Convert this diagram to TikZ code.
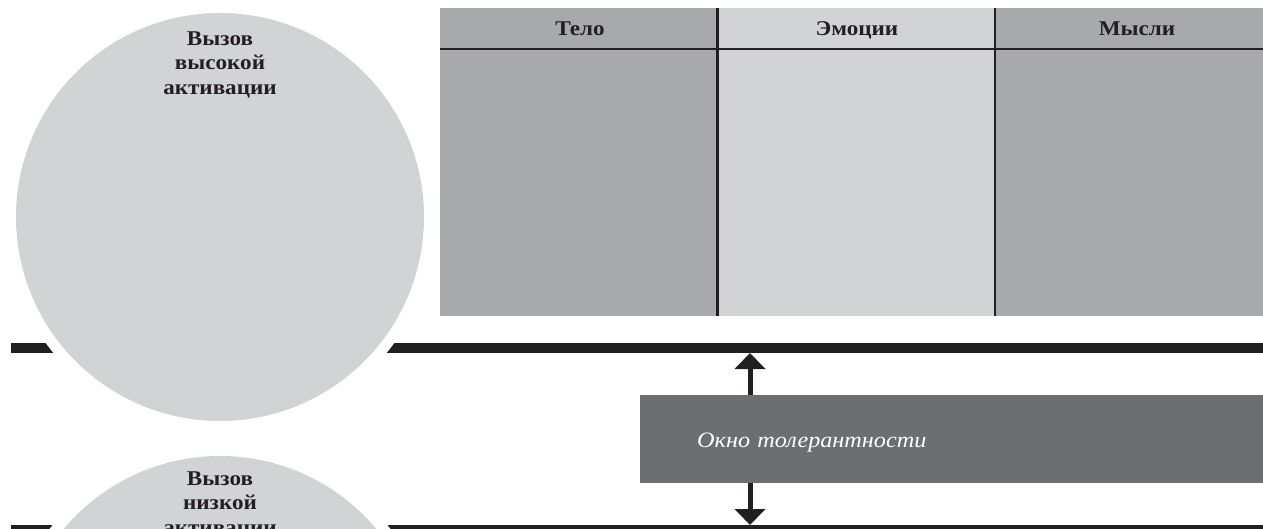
\documentclass[tikz,border=0pt]{standalone}
\usepackage{fontspec}
\setmainfont{Liberation Serif}
\newfontfamily\breit[FakeStretch=1.1]{Liberation Serif}
\usetikzlibrary{arrows.meta}
\definecolor{krug}{HTML}{D1D3D4}
\definecolor{temnyj}{HTML}{A7A9AC}
\definecolor{svetlyj}{HTML}{D1D3D4}
\definecolor{okno}{HTML}{6D6E71}
\definecolor{chernyj}{HTML}{231F20}
\begin{document}
\begin{tikzpicture}[x=1pt, y=-1pt,
  circ node/.style={circle, fill=krug, minimum size=408pt, inner sep=0pt, preaction={draw=white, line width=22pt}},
  circ text/.style={anchor=north, align=center, text=chernyj, font=\breit\bfseries\fontsize{21}{24.5}\selectfont},
  col node/.style={rectangle, anchor=north west, minimum width=277.5pt, minimum height=308pt, inner sep=0pt},
  head node/.style={anchor=base, text=chernyj, font=\breit\bfseries\fontsize{21}{24}\selectfont},
  okno node/.style={rectangle, anchor=north west, fill=okno, minimum width=630pt, minimum height=88pt, text width=516pt, text height=22pt, text depth=5pt, inner xsep=57pt, align=left, text=white, font=\breit\itshape\fontsize{22}{24}\selectfont},
  bar/.style={draw=chernyj, line width=10pt},
  rule/.style={draw=chernyj, line width=2.5pt},
  arr/.style={draw=chernyj, line width=5pt, -{Triangle[width=30pt,length=16pt]}}]
\clip (0,0) rectangle (1263,529);
% bars
\coordinate (l1) at (11,348);
\coordinate (r1) at (1275,348);
\coordinate (l2) at (11,530);
\coordinate (r2) at (1275,530);
\draw[bar] (l1) -- (r1);
\draw[bar] (l2) -- (r2);
% circles
\node[circ node] (hoch) at (220,217) {};
\node[circ text] (hochtext) at ([yshift=-15pt]hoch.north) {Вызов\\высокой\\активации};
\node[circ node] (tief) at (220,660) {};
\node[circ text] (tieftext) at ([yshift=-12pt]tief.north) {Вызов\\низкой\\активации};
% table
\node[col node, fill=temnyj] (telo) at (440,8) {};
\node[col node, fill=svetlyj] (emocii) at (717.5,8) {};
\node[col node, fill=temnyj] (mysli) at (995,8) {};
\node[head node] (h1) at (580,36) {Тело};
\node[head node] (h2) at (857,36) {Эмоции};
\node[head node] (h3) at (1137,36) {Мысли};
\draw[rule] ([yshift=-41pt]telo.north west) -- ([yshift=-41pt]mysli.north east);
\draw[rule] (emocii.north west) -- (emocii.south west);
\draw[rule] (mysli.north west) -- (mysli.south west);
% window
\node[okno node] (okno) at (640,395) {Окно толерантности};
\coordinate (oben) at (750,353);
\coordinate (unten) at (750,525);
\draw[arr] (okno.north -| oben) -- (oben);
\draw[arr] (okno.south -| unten) -- (unten);
\end{tikzpicture}
\end{document}
